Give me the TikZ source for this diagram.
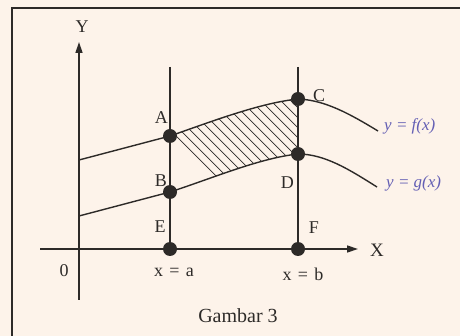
\documentclass[tikz,border=0pt]{standalone}
\usepackage{fontspec}
\setmainfont{Liberation Serif}
\usetikzlibrary{positioning,arrows.meta}
\definecolor{GambarInk}{RGB}{45,42,40}
\definecolor{GambarPaper}{RGB}{253,243,234}
\definecolor{GambarPen}{RGB}{100,95,180}
\tikzset{
    frame/.style={draw=GambarInk, line width=1.2pt},
    axis/.style={draw=GambarInk, line width=1.4pt},
    curve/.style={draw=GambarInk, line width=1.4pt},
    pointdot/.style={fill=GambarInk, circle, minimum size=14pt, inner sep=0pt},
    lbl/.style={text=GambarInk, font=\fontsize{18}{20}\selectfont, inner sep=0pt},
    pen/.style={text=GambarPen, font=\fontsize{17}{19}\selectfont\itshape, inner sep=0pt},
    hatch/.style={draw=GambarInk, line width=0.7pt},
    % Arrow styles
    axisarrow/.style={-{Triangle[length=11pt,width=7pt]}}
}
\begin{document}
\begin{tikzpicture}[x=1pt, y=-1pt]
            \useasboundingbox (0,0) rectangle (460,336);
            \fill[GambarPaper] (0,0) rectangle (460,336);
            \draw[frame] (460,8) -- (12,8) -- (12,336);

            % Axes end points
            \coordinate (ybot) at (79,300);
            \coordinate (ytop) at (79,42);
            \coordinate (xleft) at (40,249);
            \coordinate (xright) at (358,249);

            % Points on the curves and the x axis
            \coordinate (A) at (170,136);
            \coordinate (B) at (170,192);
            \coordinate (C) at (298,99);
            \coordinate (D) at (298,154);
            \coordinate (E) at (170,249);
            \coordinate (F) at (298,249);
            \coordinate (atop) at (170,67);
            \coordinate (btop) at (298,67);
            \coordinate (fstart) at (79,160);
            \coordinate (fend) at (378,131);
            \coordinate (gstart) at (79,216);
            \coordinate (gend) at (377,187);

            % Hatched area between the curves
            \begin{scope}
                \clip (A) .. controls (213,121) and (260,103) .. (C) -- (D)
                      .. controls (260,158) and (213,178) .. (B) -- cycle;
                \foreach \i in {0,...,25}
                    \draw[hatch] (100+\i*10,60) -- ++(150,150);
            \end{scope}

            % Axes
            \draw[axis, axisarrow] (ybot) -- (ytop);
            \draw[axis, axisarrow] (xleft) -- (xright);

            % Lines x = a and x = b
            \draw[axis] (atop) -- (E);
            \draw[axis] (btop) -- (F);

            % Curves f and g
            \draw[curve] (fstart) -- (A) .. controls (213,121) and (260,103) .. (C)
                .. controls (325,100) and (350,114) .. (fend);
            \draw[curve] (gstart) -- (B) .. controls (213,178) and (260,158) .. (D)
                .. controls (325,154) and (350,170) .. (gend);

            % Dots
            \foreach \p in {A,B,C,D,E,F}
                \node[pointdot] (dot\p) at (\p) {};

            % Labels
            \node[lbl] (labY) at (82,27) {Y};
            \node[lbl, font=\fontsize{19}{21}\selectfont] (labX) at (377,250) {X};
            \node[lbl] (lab0) at (64,271) {0};
            \node[lbl, above left=12pt and 2pt of dotA.center] (labA) {A};
            \node[lbl, right=15pt of dotC.center, yshift=3pt] (labC) {C};
            \node[lbl, above left=5pt and 3pt of dotB.center] (labB) {B};
            \node[lbl, below left=23pt and 4pt of dotD.center] (labD) {D};
            \node[lbl] (labE) at (160,227) {E};
            \node[lbl] (labF) at (314,228) {F};
            \node[lbl] (laba) at (174,272) {x\hspace{0.35em}=\hspace{0.35em}a};
            \node[lbl] (labb) at (303,274) {x\hspace{0.35em}=\hspace{0.35em}b};
            \node[lbl, font=\fontsize{20}{22}\selectfont] (caption) at (238,316) {Gambar 3};
            \node[pen, anchor=west] (labf) at (384,126) {y = f(x)};
            \node[pen, anchor=west] (labg) at (386,183) {y = g(x)};
        \end{tikzpicture}
\end{document}
